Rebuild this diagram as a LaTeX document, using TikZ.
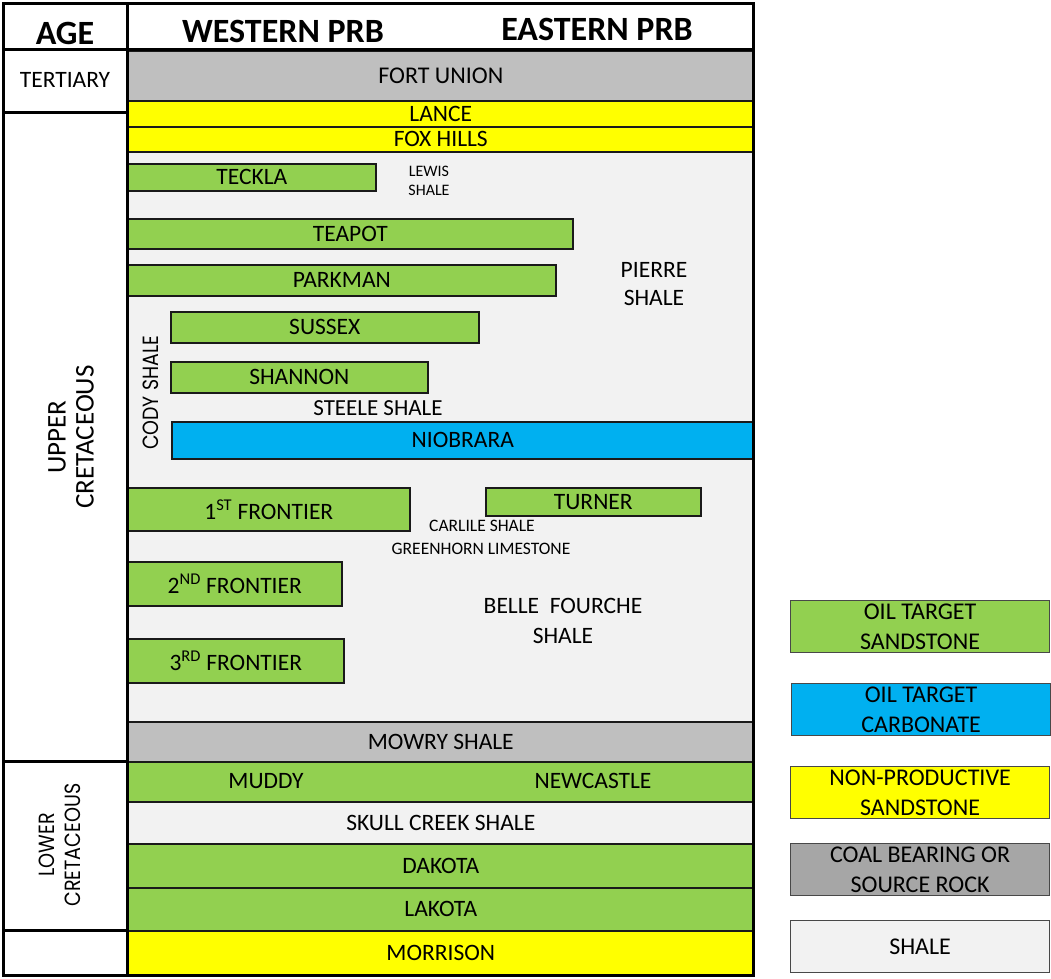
\documentclass[tikz,border=0pt]{standalone}
\usepackage{fontspec}
\setmainfont{Carlito}
\newfontfamily\geo{Poppins}
\definecolor{sand}{HTML}{92D050}
\definecolor{carb}{HTML}{00B0F0}
\definecolor{ylw}{HTML}{FFFF00}
\definecolor{coal}{HTML}{BFBFBF}
\definecolor{coalleg}{HTML}{A6A6A6}
\definecolor{shl}{HTML}{F2F2F2}
\definecolor{edge}{HTML}{1A1A1A}
\newcommand\fs[2]{\fontsize{#1}{#2}\selectfont}
\begin{document}
\begin{tikzpicture}[x=1pt,y=-1pt,
  layer/.style={draw=edge, line width=1.6pt, inner sep=0pt, anchor=north west, font=\fs{23.5}{26}},
  legbox/.style={draw=edge!80, line width=1.2pt, inner sep=0pt, anchor=north west, minimum width=259pt, minimum height=52pt, align=center, font=\fs{24}{30}},
  lbl/.style={inner sep=0pt, align=center, font=\fs{23.5}{30}},
  small/.style={inner sep=0pt, align=center, font=\fs{17.5}{19}},
  hdr/.style={inner sep=0pt, font=\bfseries\fs{34}{36}},
  frame/.style={line width=3pt, black}]
\useasboundingbox (0,0) rectangle (1051,978);
% background shale
\node[anchor=north west, fill=shl, minimum width=626pt, minimum height=570pt, inner sep=0pt] (shalebg) at (127,151) {};
% full-width layers
\node[layer, fill=coal, minimum width=626pt, minimum height=50pt, font=\fs{24}{26}] (fortunion) at (127,50) {FORT UNION};
\node[layer, fill=ylw, minimum width=626pt, minimum height=26pt] (lance) at (127,100) {LANCE};
\node[layer, fill=ylw, minimum width=626pt, minimum height=25pt] (foxhills) at (127,126) {FOX HILLS};
% partial layers
\node[layer, fill=sand, minimum width=248pt, minimum height=27pt] (teckla) at (127,163) {TECKLA};
\node[layer, fill=sand, minimum width=445pt, minimum height=30pt] (teapot) at (127,218) {TEAPOT};
\node[layer, fill=sand, minimum width=428pt, minimum height=31pt] (parkman) at (127,264) {PARKMAN};
\node[layer, fill=sand, minimum width=308pt, minimum height=31pt] (sussex) at (170,311) {SUSSEX};
\node[layer, fill=sand, minimum width=257pt, minimum height=31pt] (shannon) at (170,361) {SHANNON};
\node[layer, fill=carb, minimum width=582pt, minimum height=37pt] (niobrara) at (171,421) {NIOBRARA};
\node[layer, fill=sand, minimum width=282pt, minimum height=43pt] (frontier1) at (127,487) {1\textsuperscript{ST} FRONTIER};
\node[layer, fill=sand, minimum width=215pt, minimum height=28pt] (turner) at (485,487) {TURNER};
\node[layer, fill=sand, minimum width=214pt, minimum height=44pt] (frontier2) at (127,561) {2\textsuperscript{ND} FRONTIER};
\node[layer, fill=sand, minimum width=216pt, minimum height=44pt] (frontier3) at (127,638) {3\textsuperscript{RD} FRONTIER};
% lower layers
\node[layer, fill=coal, minimum width=626pt, minimum height=40pt] (mowry) at (127,721) {MOWRY SHALE};
\node[layer, fill=sand, minimum width=626pt, minimum height=40pt] (muddy) at (127,761) {};
\node[layer, fill=shl, minimum width=626pt, minimum height=42pt] (skull) at (127,801) {SKULL CREEK SHALE};
\node[layer, fill=sand, minimum width=626pt, minimum height=44pt] (dakota) at (127,843) {DAKOTA};
\node[layer, fill=sand, minimum width=626pt, minimum height=43pt] (lakota) at (127,887) {LAKOTA};
\node[layer, fill=ylw, minimum width=626pt, minimum height=45pt] (morrison) at (127,930) {MORRISON};
\node[lbl] (muddylbl) at (266,781) {MUDDY};
\node[lbl] (newcastle) at (593,781) {NEWCASTLE};
% shale labels
\node[inner sep=0pt, align=center, font=\fs{16}{19}] (lewis) at (429,181) {LEWIS\\SHALE};
\node[lbl, font=\fs{23.5}{28}] (pierre) at (654,284) {PIERRE\\SHALE};
\node[lbl, font=\fs{23}{24}] (steele) at (378,408) {STEELE SHALE};
\node[small] (carlile) at (482,526) {CARLILE SHALE};
\node[small] (greenhorn) at (481,549) {GREENHORN LIMESTONE};
\node[lbl] (belle) at (563,621) {BELLE\ \ FOURCHE\\SHALE};
\node[inner sep=0pt, rotate=90] (cody) at (151,393) {\scalebox{0.86}[1]{\geo\fs{22}{24}CODY SHALE}};
% frame
\draw[frame] (3,3) rectangle (753,975);
\draw[frame] (127,3) -- (127,975);
\draw[frame] (3,49) -- (753,49);
\draw[frame] (3,112) -- (127,112);
\draw[frame] (3,761) -- (127,761);
\draw[frame] (3,930) -- (127,930);
% header and age texts
\node[hdr] (age) at (65,33) {AGE};
\node[hdr] (west) at (283,31) {WESTERN PRB};
\node[hdr] (east) at (597,29) {EASTERN PRB};
\node[lbl] (tertiary) at (65,80) {TERTIARY};
\node[lbl, rotate=90, font=\fs{27}{28}] (upper) at (71,437) {UPPER\\CRETACEOUS};
\node[inner sep=0pt, rotate=90] (lower) at (62,845) {\scalebox{0.87}[1]{\geo\fs{22}{26}\begin{tabular}{@{}c@{}}LOWER\\CRETACEOUS\end{tabular}}};
% legend
\node[legbox, fill=sand] (legsand) at (790,600) {OIL TARGET\\SANDSTONE};
\node[legbox, fill=carb] (legcarb) at (791,683) {OIL TARGET\\CARBONATE};
\node[legbox, fill=ylw] (legyel) at (790,766) {NON-PRODUCTIVE\\SANDSTONE};
\node[legbox, fill=coalleg] (legcoal) at (790,843) {COAL BEARING OR\\SOURCE ROCK};
\node[legbox, fill=shl] (legshale) at (790,920) {SHALE};
\end{tikzpicture}
\end{document}
